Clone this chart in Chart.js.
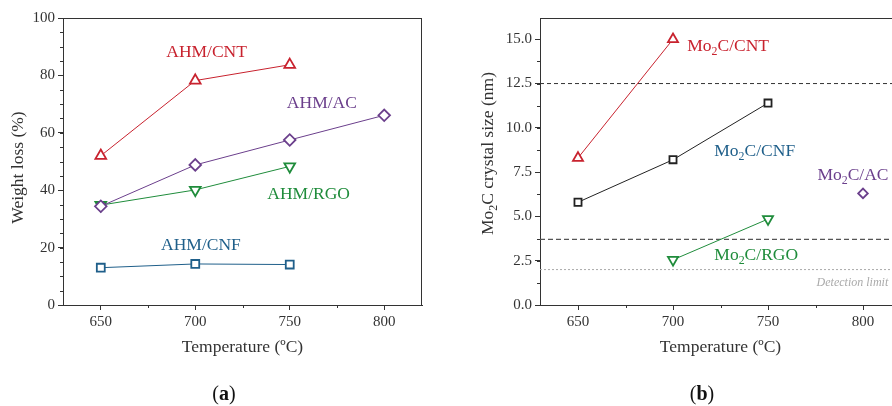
<!DOCTYPE html>
<html>
<head>
<meta charset="utf-8">
<script src="https://cdn.jsdelivr.net/npm/chart.js@4.4.1/dist/chart.umd.min.js"></script>
<style>
  html, body { margin: 0; padding: 0; background: #fff; overflow: hidden; width: 892px; height: 406px; }
  #panelA { position: absolute; left: 0; top: 0; }
  #panelB { position: absolute; left: 446px; top: 0; }
</style>
</head>
<body>
<canvas id="panelA" width="446" height="406"></canvas>
<canvas id="panelB" width="480" height="406"></canvas>
<script>
// Temperatures (ºC)
const temps = [650, 700, 750, 800];

// (a) weight loss (%) per support
const lossCNT = [52.0, 78.2, 83.7];
const lossAC = [34.4, 48.8, 57.5, 66.1];
const lossRGO = [34.8, 40.1, 48.3];
const lossCNF = [13.0, 14.3, 14.1];

// (b) Mo2C crystal size (nm)
const sizeCNTTemps = [650, 700];
const sizeCNT = [8.3, 15.0];
const sizeCNF = [5.8, 8.2, 11.4];
const sizeRGOTemps = [700, 750];
const sizeRGO = [2.55, 4.85];
const sizeACTemps = [800];
const sizeAC = [6.3];
const sizeRefLines = [12.5, 3.7];
const detectionLimit = 2.0;

// tick labels
const lossTicks = [0, 20, 40, 60, 80, 100];
const sizeTicks = [0, 2.5, 5, 7.5, 10, 12.5, 15];
const tempTicks = [650, 700, 750, 800];

const RED = '#c8222e', PURPLE = '#6b3f8c', GREEN = '#1f8c3b', BLUE = '#1f5f8a', BLACK = '#222';
const AXIS = '#333';
const SERIF = "'Liberation Serif', 'Times New Roman', serif";

const pts = (xs, ys) => ys.map((y, i) => ({ x: xs[i], y: y }));

function series(data, color, style, radius, rotation) {
  return {
    data: data,
    borderColor: color,
    borderWidth: 1,
    pointStyle: style,
    pointRotation: rotation || 0,
    pointRadius: radius,
    pointHoverRadius: radius,
    pointBorderColor: color,
    pointBackgroundColor: '#fff',
    pointBorderWidth: 1.8,
    tension: 0
  };
}

function hline(y, xmin, xmax, color, dash, width) {
  return {
    data: [{ x: xmin, y: y }, { x: xmax, y: y }],
    borderColor: color,
    borderWidth: width,
    borderDash: dash,
    pointRadius: 0,
    pointHoverRadius: 0
  };
}

// text with optional subscript pieces: [['Mo'], ['2', true], ['C/CNT']]
function drawRich(ctx, parts, cx, cy, size, style) {
  const font = s => (style || '') + ' ' + s + 'px ' + SERIF;
  let w = 0;
  parts.forEach(p => { ctx.font = font(p[1] ? size * 0.68 : size); w += ctx.measureText(p[0]).width; });
  let x = cx - w / 2;
  ctx.textAlign = 'left';
  ctx.textBaseline = 'middle';
  parts.forEach(p => {
    ctx.font = font(p[1] ? size * 0.68 : size);
    ctx.fillText(p[0], x, p[1] ? cy + size * 0.32 : cy);
    x += ctx.measureText(p[0]).width;
  });
}

// frame, minor ticks, axis titles, curve labels
function panelDecor(opts) {
  return {
    id: 'panelDecor',
    afterDraw(chart) {
      const ctx = chart.ctx;
      const a = chart.chartArea;
      const xs = chart.scales.x, ys = chart.scales.y;
      ctx.save();
      ctx.strokeStyle = AXIS;
      ctx.lineWidth = 1;
      ctx.beginPath();
      ctx.moveTo(a.left, a.top + 0.5);
      ctx.lineTo(a.right, a.top + 0.5);
      ctx.moveTo(a.right - 0.5, a.top);
      ctx.lineTo(a.right - 0.5, a.bottom);
      // minor ticks
      opts.xMinor.forEach(v => {
        const px = Math.round(xs.getPixelForValue(v)) + 0.5;
        ctx.moveTo(px, a.bottom); ctx.lineTo(px, a.bottom + 3);
      });
      for (let v = ys.min; v <= ys.max + 1e-9; v += opts.yMinorStep) {
        const py = Math.round(ys.getPixelForValue(v)) + 0.5;
        ctx.moveTo(a.left, py); ctx.lineTo(a.left - 3, py);
      }
      ctx.stroke();

      ctx.fillStyle = '#333';
      drawRich(ctx, [['Temperature (ºC)']], (a.left + a.right) / 2, 347, 17.5);
      ctx.save();
      ctx.translate(opts.yTitleX, (a.top + a.bottom) / 2 + opts.yTitleShift);
      ctx.rotate(-Math.PI / 2);
      drawRich(ctx, opts.yTitle, 0, 0, 17.5);
      ctx.restore();

      opts.labels.forEach(l => {
        ctx.fillStyle = l.color;
        const px = xs.getPixelForValue(l.x), py = ys.getPixelForValue(l.y);
        if (l.italic) {
          ctx.font = 'italic ' + l.size + 'px ' + SERIF;
          ctx.textAlign = 'right';
          ctx.textBaseline = 'middle';
          ctx.fillText(l.parts[0][0], px, py);
        } else {
          drawRich(ctx, l.parts, px, py, l.size || 17.5);
        }
      });

      // panel tag, letter in bold
      ctx.fillStyle = '#111';
      const tag = opts.tag;
      ctx.font = '20px ' + SERIF;
      const w1 = ctx.measureText('(').width;
      const w3 = ctx.measureText(')').width;
      ctx.font = 'bold 20px ' + SERIF;
      const w2 = ctx.measureText(tag).width;
      let x = opts.tagX - (w1 + w2 + w3) / 2;
      ctx.textAlign = 'left';
      ctx.textBaseline = 'middle';
      ctx.font = '20px ' + SERIF;
      ctx.fillText('(', x, 395); x += w1;
      ctx.font = 'bold 20px ' + SERIF;
      ctx.fillText(tag, x, 395); x += w2;
      ctx.font = '20px ' + SERIF;
      ctx.fillText(')', x, 395);
      ctx.restore();
    }
  };
}

function baseOptions(cfg) {
  return {
    responsive: false,
    animation: false,
    devicePixelRatio: 1,
    layout: { padding: { left: 0, top: 18, right: cfg.padRight, bottom: 0 } },
    plugins: { legend: { display: false }, tooltip: { enabled: false } },
    scales: {
      x: {
        type: 'linear',
        min: 630, max: 820,
        afterBuildTicks: s => { s.ticks = tempTicks.map(v => ({ value: v })); },
        afterFit: s => { s.height = 101; },
        ticks: { color: '#333', font: { family: SERIF, size: 15 }, padding: 3, maxRotation: 0 },
        grid: { drawOnChartArea: false, drawTicks: true, tickLength: 5, color: AXIS },
        border: { display: true, color: AXIS, width: 1 }
      },
      y: {
        min: cfg.yMin, max: cfg.yMax,
        afterBuildTicks: s => { s.ticks = cfg.yTicks.map(v => ({ value: v })); },
        afterFit: s => { s.width = cfg.yWidth; },
        ticks: { color: '#333', font: { family: SERIF, size: 15 }, padding: 3, callback: cfg.yFmt },
        grid: { drawOnChartArea: false, drawTicks: true, tickLength: 5, color: AXIS },
        border: { display: true, color: AXIS, width: 1 }
      }
    }
  };
}

// (a) Weight loss
new Chart(document.getElementById('panelA'), {
  type: 'line',
  data: {
    datasets: [
      series(pts(temps, lossCNT), RED, 'triangle', 6.2),
      series(pts(temps, lossAC), PURPLE, 'rectRot', 5.8),
      series(pts(temps, lossRGO), GREEN, 'triangle', 6.2, 180),
      series(pts(temps, lossCNF), BLUE, 'rect', 5.6)
    ]
  },
  options: baseOptions({ padRight: 24, yMin: 0, yMax: 100, yTicks: lossTicks, yWidth: 63, yFmt: v => v }),
  plugins: [panelDecor({
    xMinor: [675, 725, 775],
    yMinorStep: 5,
    yTitleX: 18,
    yTitleShift: 6,
    yTitle: [['Weight loss (%)']],
    tag: 'a',
    tagX: 224,
    labels: [
      { parts: [['AHM/CNT']], x: 706, y: 88, color: RED },
      { parts: [['AHM/AC']], x: 767, y: 70.4, color: PURPLE },
      { parts: [['AHM/RGO']], x: 760, y: 38.7, color: GREEN },
      { parts: [['AHM/CNF']], x: 703, y: 20.9, color: BLUE }
    ]
  })]
});

// (b) Mo2C crystal size
new Chart(document.getElementById('panelB'), {
  type: 'line',
  data: {
    datasets: [
      series(pts(sizeCNTTemps, sizeCNT), RED, 'triangle', 5.8),
      series(pts(temps, sizeCNF), BLACK, 'rect', 5),
      series(pts(sizeRGOTemps, sizeRGO), GREEN, 'triangle', 5.8, 180),
      series(pts(sizeACTemps, sizeAC), PURPLE, 'rectRot', 4.8),
      hline(sizeRefLines[0], 630, 820, '#333', [4, 3], 1),
      hline(sizeRefLines[1], 630, 820, '#555', [5, 3], 1.3),
      hline(detectionLimit, 630, 820, '#aaa', [2, 2], 1)
    ]
  },
  options: baseOptions({ padRight: 25, yMin: 0, yMax: 16.2, yTicks: sizeTicks, yWidth: 94, yFmt: v => Number(v).toFixed(1) }),
  plugins: [panelDecor({
    xMinor: [675, 725, 775],
    yMinorStep: 1.25,
    yTitleX: 42,
    yTitleShift: -8,
    yTitle: [['Mo'], ['2', true], ['C crystal size (nm)']],
    tag: 'b',
    tagX: 256,
    labels: [
      { parts: [['Mo'], ['2', true], ['C/CNT']], x: 729, y: 14.6, color: RED },
      { parts: [['Mo'], ['2', true], ['C/CNF']], x: 743, y: 8.65, color: BLUE },
      { parts: [['Mo'], ['2', true], ['C/AC']], x: 794.7, y: 7.33, color: PURPLE },
      { parts: [['Mo'], ['2', true], ['C/RGO']], x: 743.8, y: 2.82, color: GREEN },
      { parts: [['Detection limit']], x: 813.3, y: 1.24, color: '#aaa', italic: true, size: 12 }
    ]
  })]
});
</script>
</body>
</html>
